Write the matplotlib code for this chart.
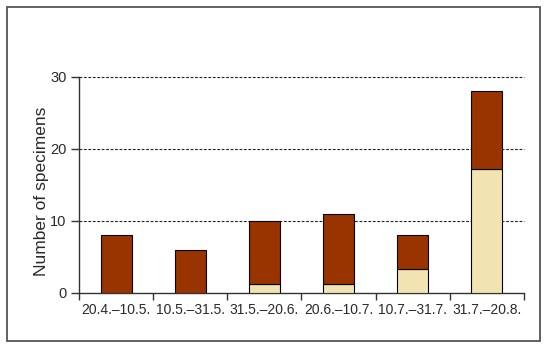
import matplotlib
matplotlib.use("Agg")
import matplotlib.pyplot as plt
from matplotlib.patches import Rectangle
import numpy as np

plt.rcParams['font.family'] = ['Liberation Sans', 'DejaVu Sans']

categories = ["20.4.\u201310.5.", "10.5.\u201331.5.", "31.5.\u201320.6.",
              "20.6.\u201310.7.", "10.7.\u201331.7.", "31.7.\u201320.8."]
light_values = [0, 0, 1.2, 1.2, 3.3, 17.2]
totals = [8, 6, 10, 11, 8, 28]
dark_values = [t - l for t, l in zip(totals, light_values)]
yticks = [0, 10, 20, 30]

fig = plt.figure(figsize=(5.5, 3.49), dpi=100)
ax = fig.add_axes([79/550, 1-293/349, (524-79)/550, (293-77)/349])

x = np.arange(len(categories))
w = 0.42
ax.bar(x, light_values, width=w, color='#F2E3B3', edgecolor='black', linewidth=0.8, zorder=3)
ax.bar(x, dark_values, width=w, bottom=light_values, color='#993300', edgecolor='black', linewidth=0.8, zorder=3)

ax.set_xlim(-0.5, len(categories) - 0.5)
ax.set_ylim(0, 30)
ax.set_yticks(yticks)
ax.set_yticklabels([str(v) for v in yticks], fontsize=10.5, color='#2a2a2a')
ax.set_xticks(x)
ax.set_xticklabels(categories, fontsize=10, color='#2a2a2a')
ax.tick_params(axis='x', length=0, pad=7)
ax.set_xticks(np.arange(-0.5, len(categories), 1.0), minor=True)
ax.tick_params(axis='x', which='minor', length=5, width=1, color='#333333', direction='out')
ax.tick_params(axis='y', length=6, width=1, color='#333333', direction='out', pad=3)

for v in yticks[1:]:
    ax.axhline(v, color='#222222', linestyle=(0, (2.5, 1.5)), linewidth=0.8, zorder=1, clip_on=False)

for s in ['top', 'right']:
    ax.spines[s].set_visible(False)
for s in ['left', 'bottom']:
    ax.spines[s].set_color('#333333')
    ax.spines[s].set_linewidth(1.0)

ax.set_ylabel("Number of specimens", fontsize=12.5, color='#2a2a2a')
ax.yaxis.set_label_coords((49 - 79) / 445, (293 - 191) / 216)

fig.patches.append(Rectangle((7/550, 1-341/349), (540-7)/550, (341-7)/349,
                             transform=fig.transFigure, fill=False,
                             edgecolor='#555555', linewidth=1.3))

fig.savefig("out.png", dpi=100)
